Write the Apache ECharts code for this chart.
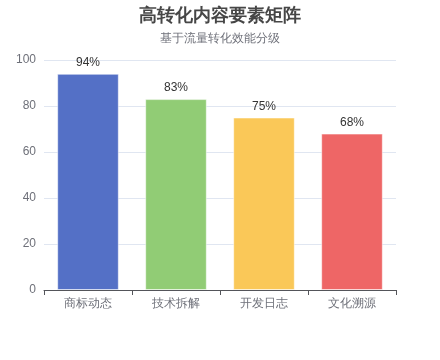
<!DOCTYPE html>
<html><head><meta charset="utf-8">
<script src="https://cdn.jsdelivr.net/npm/echarts@6/dist/echarts.min.js"></script>
<style>html,body{margin:0;padding:0;background:#fff}#c{width:440px;height:360px}</style>
</head><body><div id="c"></div>
<script>
const categories = ['商标动态', '技术拆解', '开发日志', '文化溯源'];
const values = [94, 83, 75, 68];
const colors = ['#5470c6', '#91cc75', '#fac858', '#ee6666'];
const yTicks = { min: 0, max: 100, interval: 20 };

const chart = echarts.init(document.getElementById('c'), null, { renderer: 'canvas' });
chart.setOption({
  animation: false,
  title: {
    text: '高转化内容要素矩阵',
    subtext: '基于流量转化效能分级',
    left: 'center',
    top: 2,
    textStyle: { fontSize: 18, fontWeight: 'bold', color: '#464646' },
    subtextStyle: { fontSize: 12, color: '#6e7079' },
    itemGap: 8
  },
  grid: { left: 44, right: 44, top: 60, bottom: 70 },
  xAxis: {
    type: 'category',
    data: categories,
    axisTick: { show: true },
    axisLabel: { color: '#6e7079', fontSize: 12 }
  },
  yAxis: {
    type: 'value',
    min: yTicks.min, max: yTicks.max, interval: yTicks.interval,
    axisLabel: { color: '#6e7079', fontSize: 12 },
    splitLine: { lineStyle: { color: '#e0e6f1' } }
  },
  series: [{
    type: 'bar',
    barWidth: '70%',
    data: values.map((v, i) => ({ value: v, itemStyle: { color: colors[i], borderColor: 'rgba(255,255,255,0.5)', borderWidth: 1 } })),
    label: { show: true, position: 'top', formatter: '{c}%', color: '#333', fontSize: 12 }
  }]
});
</script></body></html>
